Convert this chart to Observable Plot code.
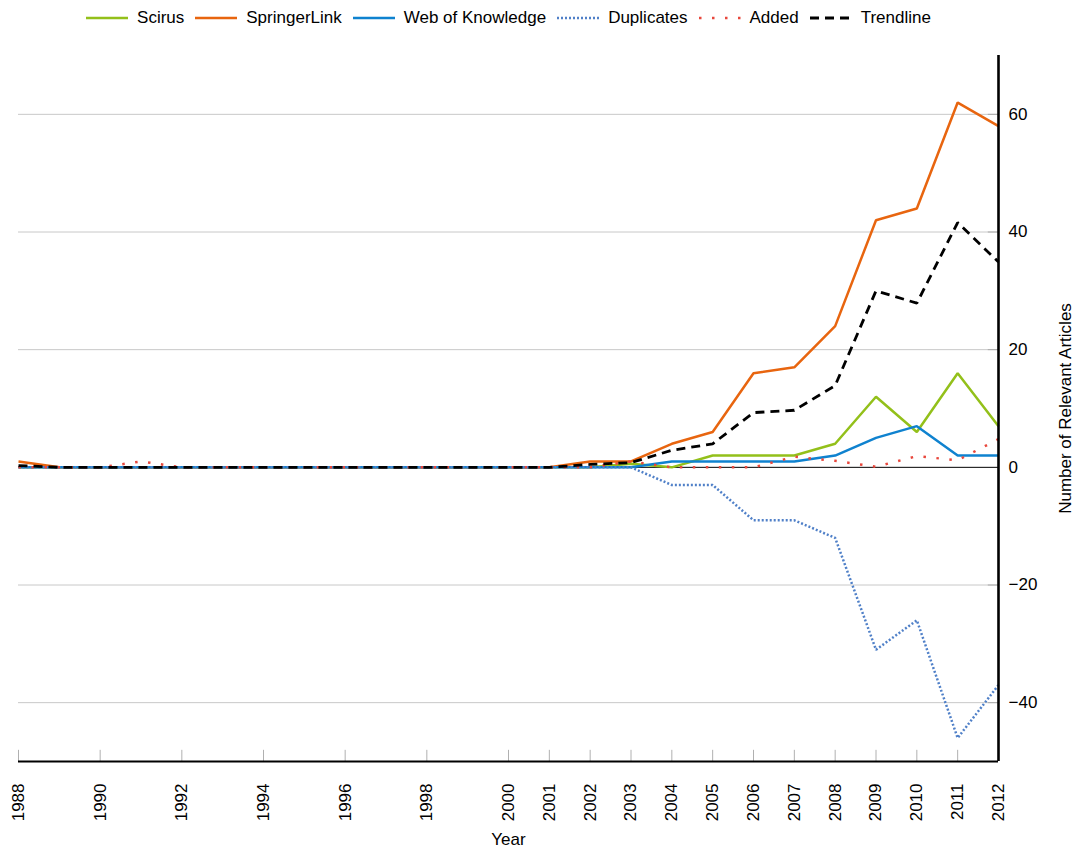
<!DOCTYPE html>
<html><head><meta charset="utf-8">
<script src="https://cdn.jsdelivr.net/npm/d3@7"></script>
<script src="https://cdn.jsdelivr.net/npm/@observablehq/plot@0.6"></script>
<style>
body{margin:0;background:#fff;font-family:"Liberation Sans",Arial,sans-serif;}
#legend{width:1016px;height:35px;display:flex;justify-content:center;align-items:center;font-size:17px;color:#000;}
#legend .item{display:flex;align-items:center;margin:0 5px;}
#legend svg{margin-right:8px;}
</style></head><body>
<div id="legend"></div>
<div id="chart"></div>
<script>
const years = [1988,1989,1990,1991,1992,1993,1994,1995,1996,1997,1998,1999,2000,2001,2002,2003,2004,2005,2006,2007,2008,2009,2010,2011,2012];
const scirus     = [0,0,0,0,0,0,0,0,0,0,0,0,0,0,0,0.6,0,2,2,2,4,12,6,16,7];
const springer   = [1,0,0,0,0,0,0,0,0,0,0,0,0,0,1,1,4,6,16,17,24,42,44,62,58];
const wok        = [0,0,0,0,0,0,0,0,0,0,0,0,0,0,0,0,1,1,1,1,2,5,7,2,2];
const duplicates = [0,0,0,0,0,0,0,0,0,0,0,0,0,0,0,0,-3,-3,-9,-9,-12,-31,-26,-46,-37];
const added      = [0,0,0,1,0,0,0,0,0,0,0,0,0,0,0,1,0,0,0,1.8,1.1,0.1,1.9,1.2,4.8];
const trendline  = [0.3,0,0,0,0,0,0,0,0,0,0,0,0,0,0.5,0.8,2.9,4.0,9.3,9.7,13.9,30,27.9,41.6,34.9];
const xTicks = [1988,1990,1992,1994,1996,1998,2000,2001,2002,2003,2004,2005,2006,2007,2008,2009,2010,2011,2012];
const yTicks = [-40,-20,0,20,40,60];
const gridTicks = [-40,-20,20,40,60];

const seriesNames = ["Scirus","SpringerLink","Web of Knowledge","Duplicates","Added","Trendline"];
const seriesValues = [scirus, springer, wok, duplicates, added, trendline];
const styles = {
  "Scirus":          {stroke:"#93c01a", strokeWidth:2.5, dash:null},
  "SpringerLink":    {stroke:"#e8650f", strokeWidth:2.5, dash:null},
  "Web of Knowledge":{stroke:"#0f82cf", strokeWidth:2.5, dash:null},
  "Duplicates":      {stroke:"#5080c8", strokeWidth:2.5, dash:"2,2"},
  "Added":           {stroke:"#e8473c", strokeWidth:2.5, dash:"2.5,10.5"},
  "Trendline":       {stroke:"#000000", strokeWidth:2.8, dash:"9,6"}
};

const legend = document.getElementById("legend");
for (const name of seriesNames) {
  const s = styles[name];
  const item = document.createElement("div");
  item.className = "item";
  item.innerHTML = `<svg width="44" height="10"><line x1="1" y1="5" x2="43" y2="5" stroke="${s.stroke}" stroke-width="${s.strokeWidth}" ${s.dash ? `stroke-dasharray="${s.dash}"` : ""}/></svg><span>${name}</span>`;
  legend.appendChild(item);
}

const lineMarks = seriesNames.map((name, i) => {
  const s = styles[name];
  const rows = years.map((y, j) => ({year: y, value: seriesValues[i][j]}));
  return Plot.line(rows, {x: "year", y: "value", stroke: s.stroke, strokeWidth: s.strokeWidth,
    strokeDasharray: s.dash || undefined, strokeLinejoin: "miter", strokeLinecap: "butt"});
});

const plot = Plot.plot({
  width: 1075, height: 815,
  marginLeft: 18, marginRight: 77, marginTop: 20, marginBottom: 89,
  x: {domain: [1988, 2012]},
  y: {domain: [-50, 70]},
  style: {fontFamily: "'Liberation Sans', Arial, sans-serif", fontSize: "17px", color: "#000", background: "#fff"},
  marks: [
    Plot.ruleY(gridTicks, {stroke: "#c8c8c8", strokeWidth: 1}),
    Plot.ruleY(gridTicks, {x1: 2011.75, x2: 2012, stroke: "#aaa", strokeWidth: 1}),
    Plot.ruleY([0], {stroke: "#000", strokeWidth: 1}),
    Plot.ruleX(xTicks, {y1: -50, y2: -48.1, stroke: "#b0b0b0", strokeWidth: 1}),
    Plot.axisX({ticks: xTicks, tickFormat: d => String(d), tickRotate: -90, tickSize: 0, tickPadding: 22, label: null}),
    Plot.axisY({anchor: "right", ticks: yTicks, tickSize: 0, tickPadding: 10, label: null}),
    Plot.text(["Year"], {frameAnchor: "bottom", dy: 83, fontSize: 17}),
    Plot.text(["Number of Relevant Articles"], {frameAnchor: "right", dx: 67, rotate: -90, textAnchor: "middle", fontSize: 17}),
    ...lineMarks,
    Plot.ruleY([-50], {stroke: "#000", strokeWidth: 2}),
    Plot.ruleX([2012], {stroke: "#000", strokeWidth: 2.6})
  ]
});
document.getElementById("chart").appendChild(plot);
</script>
</body></html>
